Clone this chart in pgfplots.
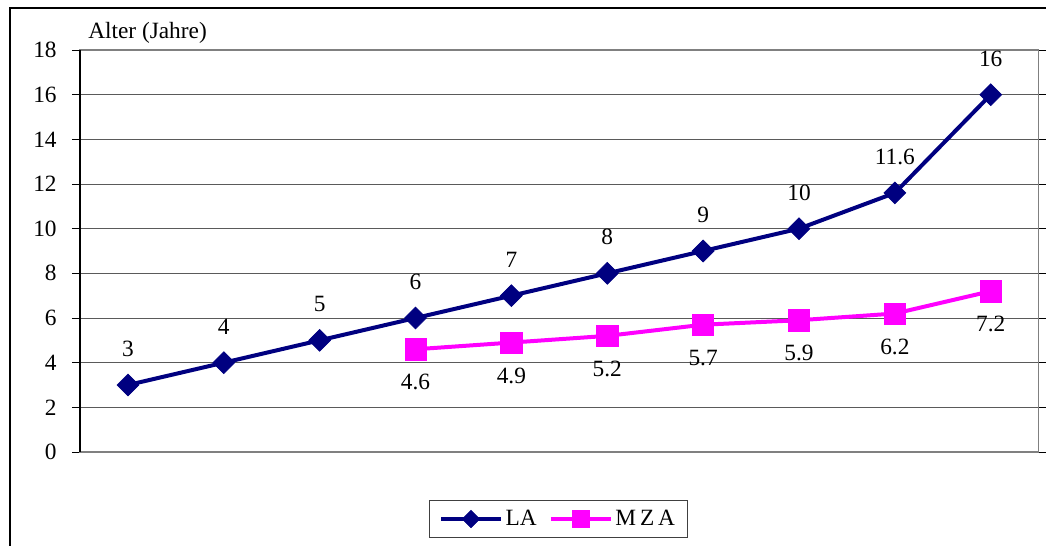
\documentclass[border=0pt]{standalone}
\usepackage{pgfplots}
\pgfplotsset{compat=1.18}
\usepackage{pgfplotstable}
\usepackage{fontspec}
\setmainfont{Liberation Serif}
\definecolor{navyLA}{RGB}{0,0,128}
\definecolor{magMZA}{RGB}{255,0,255}
\definecolor{gridc}{RGB}{90,90,90}
\newcommand{\chartfont}{\fontsize{17.5}{20}\selectfont}
\pgfplotstableread{
x y lab
0 3 3
1 4 4
2 5 5
3 6 6
4 7 7
5 8 8
6 9 9
7 10 10
8 11.6 11.6
9 16 16
}\tableLA
\pgfplotstableread{
x y lab
3 4.6 4.6
4 4.9 4.9
5 5.2 5.2
6 5.7 5.7
7 5.9 5.9
8 6.2 6.2
9 7.2 7.2
}\tableMZA
\begin{document}
\begin{tikzpicture}
\useasboundingbox (0pt,0pt) rectangle (784.5pt,-409.5pt);
\draw[line width=1.5pt] (7.125pt,-409.5pt) -- (7.125pt,-6pt) -- (790pt,-6pt);
\begin{axis}[
  at={(60pt,-339pt)}, anchor=south west,
  scale only axis, width=719pt, height=301.5pt,
  xmin=-0.5, xmax=9.5, ymin=0, ymax=18,
  xtick=\empty,
  ytick={0,2,...,18},
  ymajorgrids, major grid style={gridc, line width=0.75pt},
  axis line style={gray, line width=0.9pt},
  ytick style={black, line width=0.75pt},
  tick align=outside, major tick length=6pt,
  y tick label style={font=\chartfont, xshift=-8pt},
  /pgf/number format/assume math mode=true,
  clip=false,
  legend columns=2,
  legend style={at={(0.499,-0.1667)}, anchor=center, draw=black!75, line width=0.75pt,
    font=\chartfont, inner xsep=7pt, inner ysep=5pt,
    /tikz/every even column/.append style={column sep=7pt}},
  legend image code/.code={\draw[mark repeat=2,mark phase=2,#1,mark size=0.8*\pgfplotmarksize] plot coordinates {(0pt,0pt)(22.5pt,0pt)(45pt,0pt)};},
  nodes near coords,
  point meta=explicit symbolic,
  every node near coord/.append style={font=\chartfont, anchor=center, text=black},
]
\addplot[navyLA, line width=3pt, mark=square*, mark size=5.8pt,
  mark options={solid, line width=0.5pt, rotate=45},
  every node near coord/.append style={yshift=27pt}]
  table[x=x, y=y, meta=lab] {\tableLA};
\addlegendentry{LA}
\addplot[magMZA, line width=3pt, mark=square*, mark size=8pt,
  mark options={solid, line width=0.5pt},
  every node near coord/.append style={yshift=-24.75pt}]
  table[x=x, y=y, meta=lab] {\tableMZA};
\addlegendentry{M\,Z\,A}
\draw[black, line width=0.9pt] (rel axis cs:0,0) -- (rel axis cs:0,1);
\node[anchor=west, font=\chartfont, inner sep=0pt] at ([xshift=6pt, yshift=12.5pt]rel axis cs:0,1) {Alter (Jahre)};
\end{axis}
\end{tikzpicture}
\end{document}
